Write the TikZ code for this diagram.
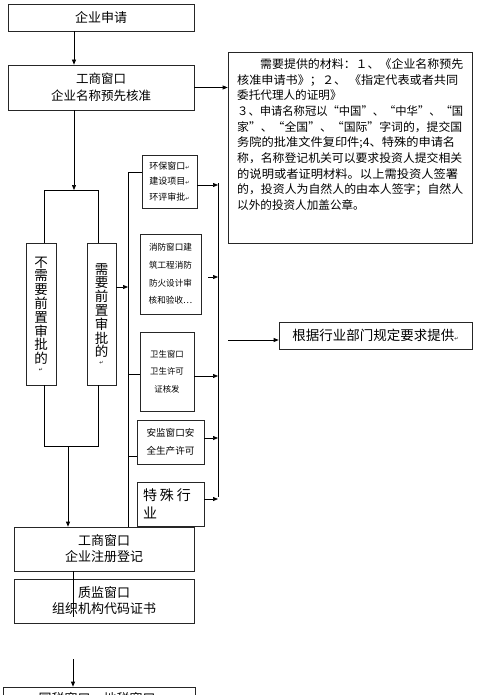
\documentclass[tikz,border=0pt]{standalone}
\usepackage{fontspec}
\usepackage{graphicx}
\setmainfont{Noto Sans CJK SC}
\newfontfamily\dejavu{DejaVu Sans}
\usetikzlibrary{arrows.meta}
\newcommand{\fsz}[2]{\fontsize{#1}{#2}\selectfont}
\newcommand{\retmark}{{\dejavu\fontsize{5}{5}\selectfont ↵}}
\newcommand{\fitw}[2]{\resizebox{#1}{\height}{#2}}
\tikzset{
  box/.style={draw=black!85, line width=0.7pt, inner sep=0pt, align=center},
  arr/.style={-{Triangle[length=5pt,width=4pt]}, line width=0.7pt},
  ln/.style={line width=0.7pt},
  mline/.style={anchor=base west, inner sep=0pt, font=\fsz{11.6}{14}}
}
\begin{document}
\begin{tikzpicture}[x=1pt,y=-1pt]
\path[use as bounding box, clip] (0,0) rectangle (500,695);
\fill[white] (0,0) rectangle (500,695);

\node[box, minimum width=186pt, minimum height=27pt, font=\fsz{13}{15}] (app) at (101,17.5) {企业申请};
\node[box, minimum width=186pt, minimum height=45pt, font=\fsz{12.5}{17}] (name) at (101,87.5) {工商窗口\\企业名称预先核准};

\node[box, minimum width=244pt, minimum height=191pt] (mat) at (350,147.5) {};
\node[mline] (m1) at (260,68.4) {\fitw{203pt}{需要提供的材料：１、《企业名称预先}};
\node[mline] (m2) at (237,84.1) {\fitw{221pt}{核准申请书》；２、 《指定代表或者共同}};
\node[mline] (m3) at (237,99.8) {委托代理人的证明》};
\node[mline] (m4) at (237,115.4) {\fitw{226pt}{３、申请名称冠以“中国”、“中华”、“国}};
\node[mline] (m5) at (237,131.1) {\fitw{225pt}{家”、“全国”、“国际”字词的，提交国}};
\node[mline] (m6) at (237,146.8) {\fitw{218pt}{务院的批准文件复印件;4、特殊的申请名}};
\node[mline] (m7) at (237,162.4) {\fitw{225pt}{称，名称登记机关可以要求投资人提交相关}};
\node[mline] (m8) at (237,178.1) {\fitw{221pt}{的说明或者证明材料。以上需投资人签署}};
\node[mline] (m9) at (237,193.8) {\fitw{226pt}{的，投资人为自然人的由本人签字；自然人}};
\node[mline] (m10) at (237,209.4) {以外的投资人加盖公章。};

\node[box, minimum width=30pt, minimum height=142pt, font=\fsz{13.5}{13.8}] (noneed) at (41,314) {不\\需\\要\\前\\置\\审\\批\\的\\[-6pt]\retmark};
\node[box, minimum width=29pt, minimum height=142pt, font=\fsz{13.5}{13.8}] (need) at (101.5,314) {需\\要\\前\\置\\审\\批\\的\\[-6pt]\retmark};

\node[box, minimum width=55pt, minimum height=53pt, font=\fsz{9}{15.5}] (hb) at (169.5,181.5) {环保窗口\retmark\\建设项目\retmark\\环评审批\retmark};
\node[box, minimum width=61pt, minimum height=80pt, font=\fsz{8.6}{17.7}] (xf) at (170.5,274) {消防窗口建\\筑工程消防\\防火设计审\\核和验收…};
\node[box, minimum width=54pt, minimum height=79pt, font=\fsz{8.4}{17.5}] (ws) at (167,371.5) {卫生窗口\\卫生许可\\证核发};
\node[box, minimum width=67pt, minimum height=44pt, font=\fsz{9.6}{18}] (aj) at (170.5,442) {安监窗口安\\全生产许可};
\node[box, minimum width=67pt, minimum height=44pt, text width=55pt, align=left, font=\fsz{14}{18}] (ts) at (170.5,504) {特\hspace{3pt}殊\hspace{3pt}行\\业};

\node[box, minimum width=193pt, minimum height=27pt, font=\fsz{13.5}{15}] (hy) at (375.5,335.5) {根据行业部门规定要求提供\retmark};

\node[box, minimum width=180pt, minimum height=44pt, font=\fsz{13}{16}] (reg) at (104,549) {工商窗口\\企业注册登记};
\node[box, minimum width=180pt, minimum height=44pt, font=\fsz{13}{16}] (zj) at (104,601) {质监窗口\\组织机构代码证书};

\node[box, minimum width=192pt, minimum height=50pt] (gs) at (99,712) {};
\node[inner sep=0pt, font=\fsz{13}{15}] (gstxt) at (97,699) {国税窗口、地税窗口};

% connectors
\coordinate (tx) at (74,0);
\draw[arr] (tx |- app.south) -- (tx |- name.north);
\draw[arr] (name.east) -- (name.east -| mat.west);
\coordinate (split) at (74,190);
\draw[arr] (tx |- name.south) -- (split);
\coordinate (jl) at (44,190);
\coordinate (jr) at (98,190);
\draw[ln] (jl |- noneed.north) -- (jl) -- (jr) -- (jr |- need.north);
\coordinate (ml) at (44,446);
\coordinate (mr) at (98,446);
\coordinate (mm) at (68,446);
\draw[ln] (jl |- noneed.south) -- (ml) -- (mr) -- (jr |- need.south);
\draw[arr] (mm) -- (mm |- reg.north);

\coordinate (vlt) at (128,172);
\draw[ln] (vlt) -- (vlt |- reg.north);
\draw[ln] (vlt) -- (vlt -| hb.west);
\draw[ln] (vlt |- 0,374) -- (ws.west |- 0,374);
\draw[ln] (vlt |- 0,456) -- (aj.west |- 0,456);
\draw[arr] (need.east |- 0,287) -- (vlt |- 0,287);

\coordinate (vrt) at (218,183);
\coordinate (vrb) at (218,497);
\draw[ln] (vrt) -- (vrb);
\draw[arr] (hb.east |- 0,185) -- (vrt |- 0,185);
\coordinate (xfa) at (208,277);
\draw[arr] (xfa) -- (xfa -| vrt);
\draw[arr] (ws.east |- 0,376) -- (vrt |- 0,376);
\draw[arr] (aj.east |- 0,438) -- (vrt |- 0,438);
\draw[arr] (ts.east |- 0,499) -- (vrt |- 0,499);
\coordinate (hya) at (228,340);
\draw[arr] (hya) -- (hya -| hy.west);

\coordinate (rz) at (73,617);
\draw[ln] (rz |- reg.south) -- (rz);
\coordinate (ga) at (73,659);
\draw[arr] (ga) -- (ga |- gs.north);
\end{tikzpicture}
\end{document}
